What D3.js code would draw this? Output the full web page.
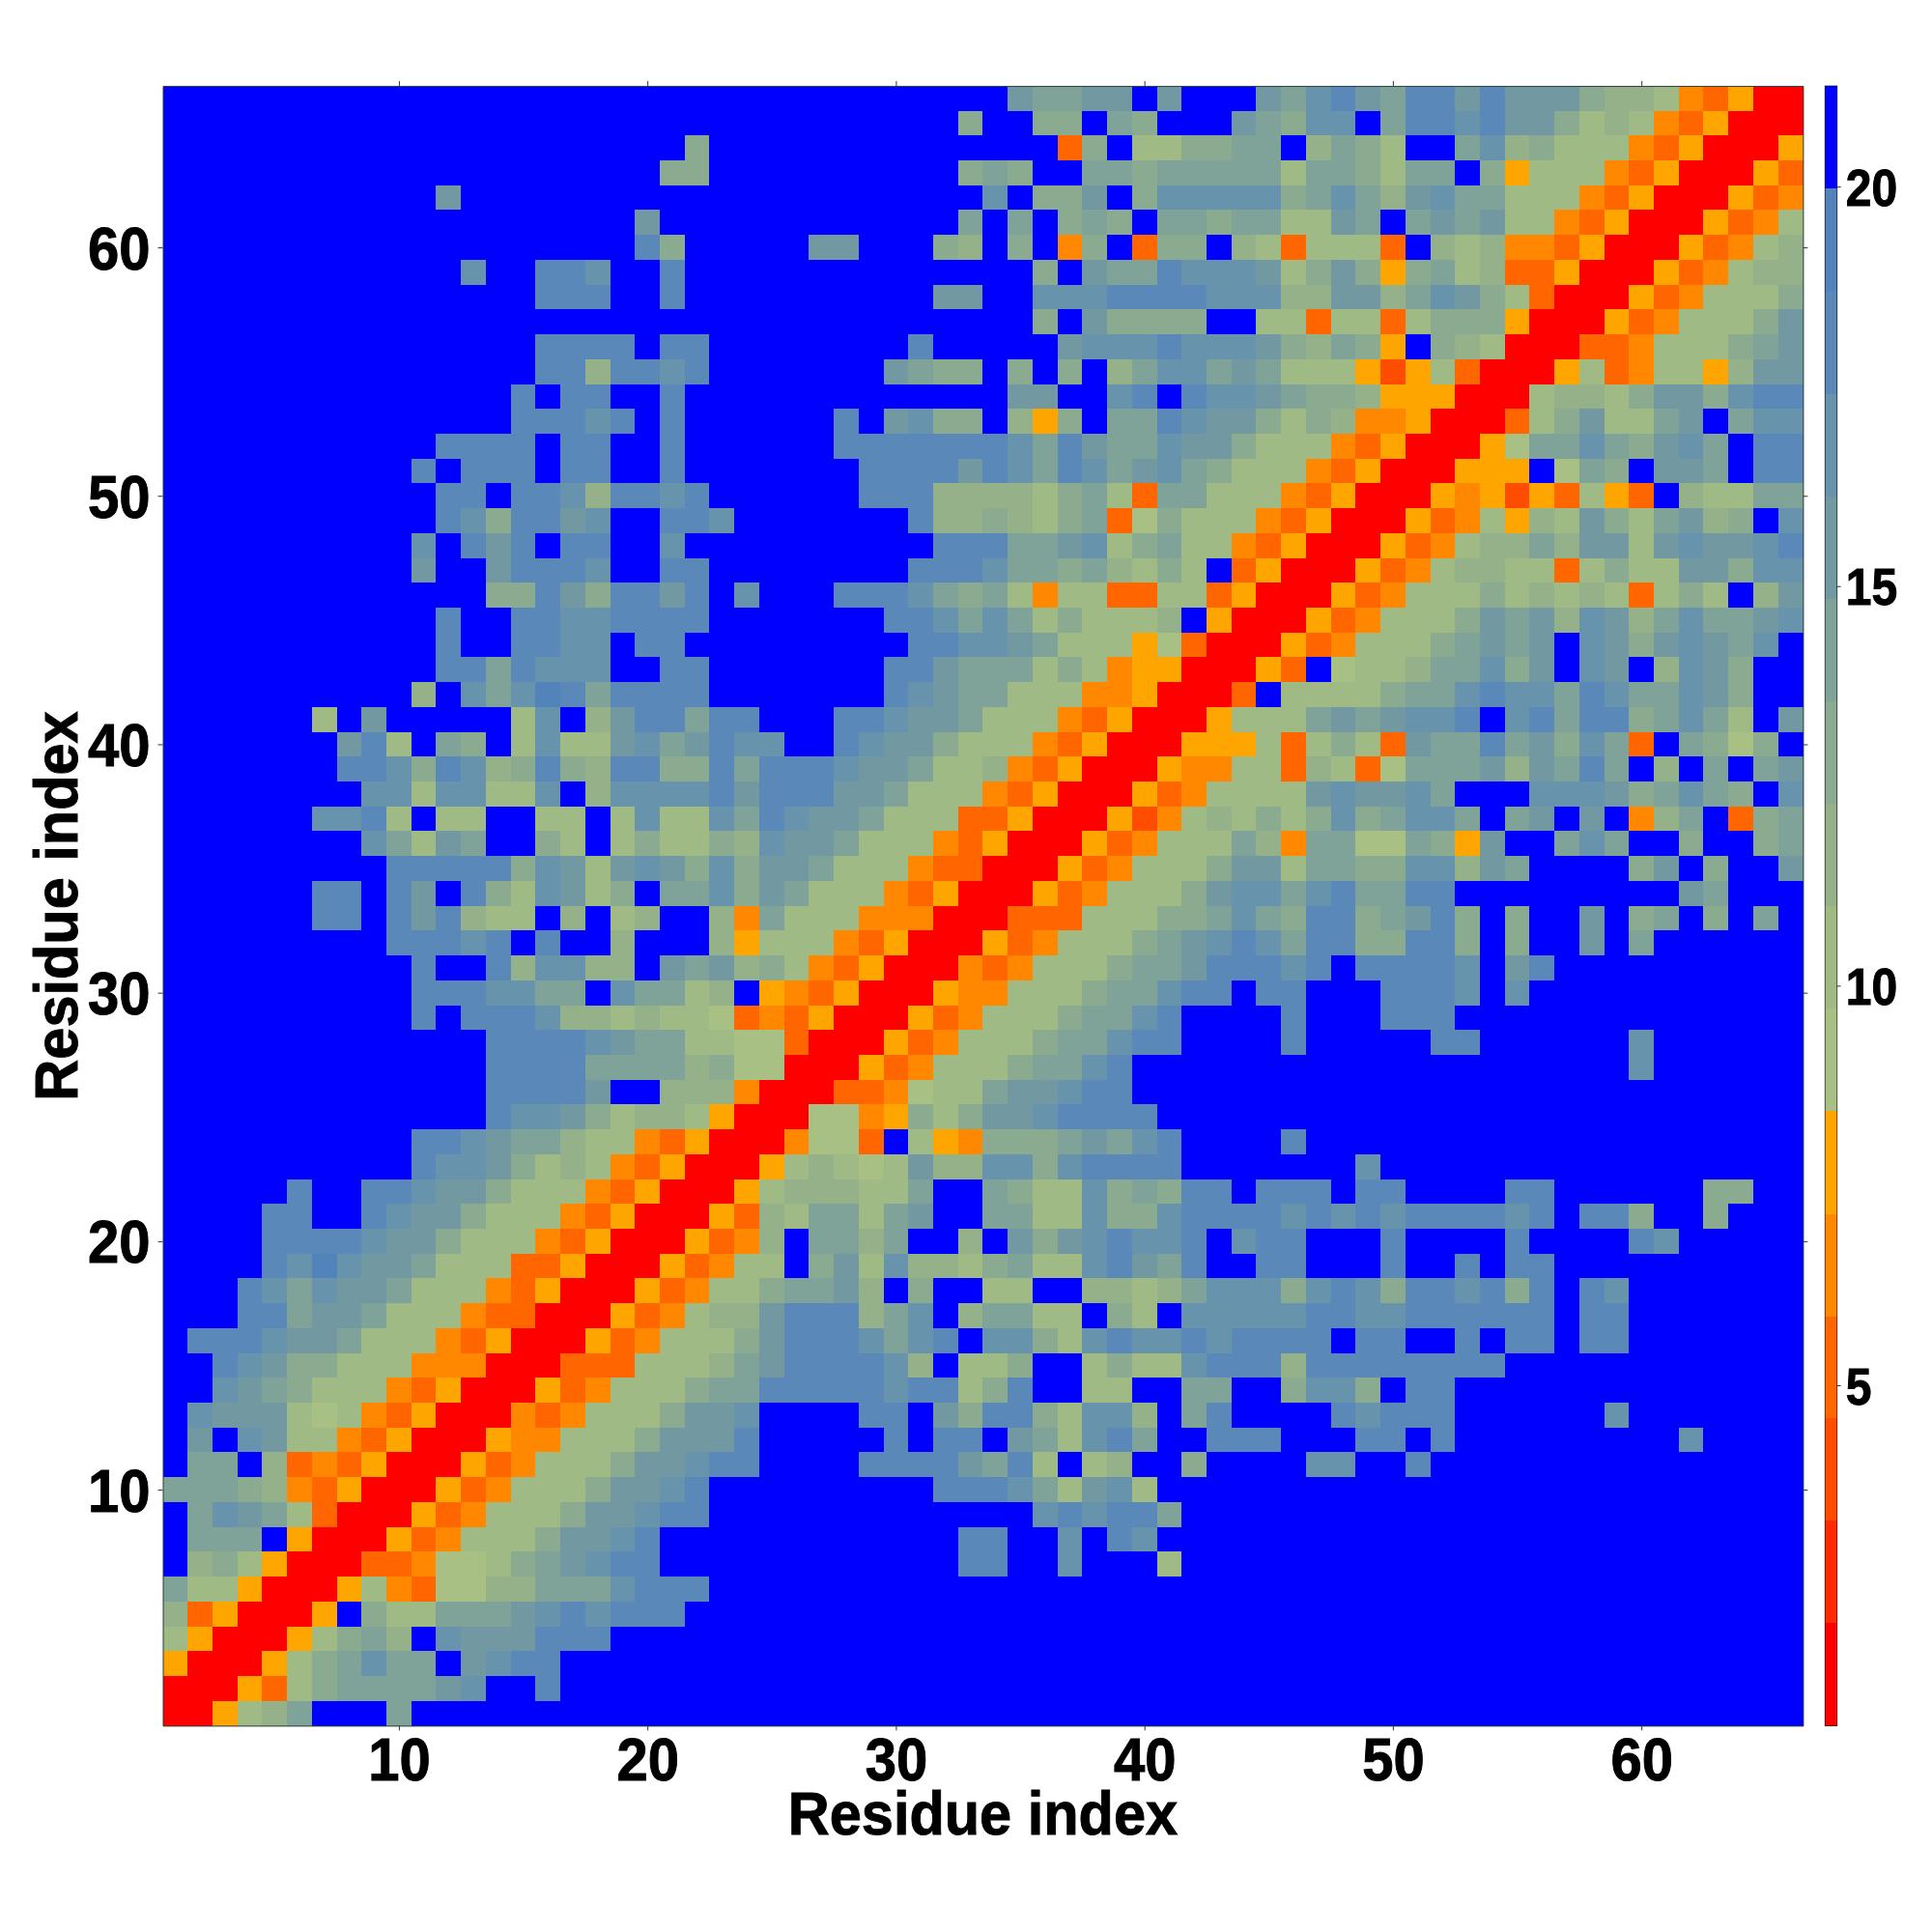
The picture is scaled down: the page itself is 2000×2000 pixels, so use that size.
<!DOCTYPE html>
<html><head><meta charset="utf-8">
<script src="https://cdn.jsdelivr.net/npm/d3@7"></script>
<style>html,body{margin:0;background:#fff}svg{display:block}text{font-family:"Liberation Sans",Arial,sans-serif;font-weight:700;fill:#000;stroke:#000;stroke-width:0.9px;paint-order:stroke}</style>
</head><body><svg id="c" width="2000" height="2000"></svg>
<script>
// band edges of the discrete colour scale (distance)
const bandBreaks = [0.74,2.03,3.31,4.59,5.87,7.15,8.44,9.72,11.0,12.28,13.57,14.85,16.13,17.41,18.69,19.98,21.26];
const bandColors = ["#ff0000","#ff2a00","#ff4d00","#ff6600","#ff8800","#ffa500","#a9c084","#9fba85","#95b18a","#8aab90","#7fa398","#7299a2","#6893ad","#5a88b8","#5383bb","#0000ff"];
const symbols = "0123456789abcde.";
const barTicks = [5,10,15,20];
const axisTicks = [10,20,30,40,50,60];
const residueCount = 66;
// one string per residue row, top row (66) first; each symbol is a band of the scale
const matrixRows = [
"...................... ............baabb.b... bacdbaddbdbbb988743500",
"...................... ..........9..99.a9...b a9cc.addcdbb9787435000",
".....................9 ..............39.7799a a.8a97..ac897774350005",
"....................99 ..........9a9..aa9aaaa a7aa97aa.9577743500053",
"...........b.......... ...........c.99b.9cccc c9aca8bcaa777435000534",
"...................b.. ..........a.a.9a9.aa9a a77ba.abab774350005347",
"...................d9. ....bb...98.9.49.399.8 737773.878443500053478",
"............c..ddc..d. .............9.baadccc b79b959a78335000534788",
"...............ddd..d. .........bb..cccddddcc c88bb8acb9730005347779",
"...................... .............9.b9999.. 773773799950005347779b",
"...............dddd.dd ........d.....bcccdccc b98a95.9870003347779ab",
"...............dd8ddcd .......ba99.9.9.8accab a7775257300057347758bb",
"..............d.dd..d. ............bb..cd.dcc ba99855500078879bb9cdd",
"..............dddcd.d. .....d.bc99.859.aadcbb 9798445000379b77ab.acc",
"...........dddd.dd..d. .....dddddddcadbaacbb9 77743500056aaca9bca.dd",
"..........d.ddd.dd..d. ......ddddbdcadcabca97 77435000555.6a9.bba.dd",
"...........dd.ddc8ddcd ......ddd888879a73aa77 7435000545253753.877aa",
"...........dc9ddbc..dd c.......d889879a369777 4350005347587b97ab89.c",
"..........c.dbd.dd..c. .........dddaabc79a774 35000534788a8bb7bcbbcd",
"..........b..bdddc..dd ........dddcaa9a8797.3 50005347887737977bb9cc",
".............99db9ddbd .c...dddca9a7477337735 0005347779787873797.8b",
"...........d..ddccdddd .......ddcaca797778.50 005347779bab8cb8acaabc",
"...........d..ddcc.dd. ........ddccba77756300 05347779abab.cb9bcbac.",
"...........ddadccc..dd .......ddbaaa797455000 53.6778aac9b.cb.8cb9..",
"..........8.cacedadddd .......dcbaa7774450003 .77779aacdccadcaacb9..",
"......7.b.....7c.8bdda dd...ddcbba77743500057 77ababccd.cdadd9aca7.b",
".......bd7.a9.7c77bcab dcc..dcbb9777435000555 737973baadab9ca3.a969.",
".......ddc9dc89d98dd99 dadddcbba7784350005447 738736aaab8bada.8.a.ab",
"........cc7cc77c.8cccc dbdddbba77743500053477 77bcbbca...cccb9aca9.c",
"......ccd7.77..77.7c77 cadcbba777335000524787 979c9acca.ab.b.48a.39a",
"........ca7ba..97.7977 98cbba777435000534777a 84aa66a95b..aca..9..9a",
".........ddddd9cb7bcb9 c9bba7774330005347779b b7aa99cc8ba....9b.9..b",
"......dd.db.d97cb79.aa c9ba7774350005347779bc cacdaadd.........ba...",
"......dd.dbd877.8.78.. 84a77744400033377799ac a9dd9abd9.9..b.9a.9.a.",
".........dddcd.d..8... 857774350005347779abcd cadd99dd9.9..b.a......",
"..........d..d8cc88.ba b8974350004347779aabdd dcd.ddddc.bd..........",
"..........dddccaa.caa7 8.54350005447779aacdd. dd...dddc.c...........",
"..........d.dddc887877 634350005347779aacd... .d...ddd..............",
".............ddddcbaa7 76630005347779aacdd... .d.....dd......c......",
".............ddddaaaa8 9660005347779aacd..... ...............c......",
".............ddddb..88 84000334677abbcdd..... ......................",
".............dccb97887 50006645979bbcdddd.... ......................",
"..........ddcbaa877435 0004663.754999abacd... .d....................",
"..........dccb97874350 00578767b88cc9cdddd... ....c.................",
".....d..ddcbb977743500 05788877a..a977c9a9dd. ddd.dd....dd......99..",
"....dd..dcbb9777435000 5387aa7ab..aa77c99cddd dcdcdcddddcd.dd9..9...",
"....ddddcbb97774350005 348.aa8a..8.b9bcdccd.c dd...d....d....dc.....",
"....dcecbba77733500053 477.9b7c8879a77cdbad.. dd...d..d.dd..........",
"...dcacbba777435000534 779aab8.9..77..8878acc c9cdc9ddcd9d.dc.......",
"...ddabba7774330005347 88bddd8ac.8aa77.97.ccc ccddccdddddd.dd.......",
".dddcbba77743500053477 79bdddcacd.cc97cdccdcd ddd.dd..d.dd.dd.......",
"..dcb99777444000333777 8abddddc8.779..7977cdd d8dddddddd............",
"..cba97774350005347779 aadddddcdd79d..77..aa. .9cc9.dd..............",
".cbbb7674350004347779b bc....dd.b9dd97cc8.ad. ...dcddd......c.......",
".b.cb774350005447779bb bd.....d.dd.ba7cda..dd d...dd.d.........c....",
".aa.834350005347779bbc dd....ddddbad7.78..9.. ..cc..d...............",
"aaa984350005347779bbcd .........dddca7bc7.... ......................",
".acba730005347779bbcdd .............cdcdda... ......................",
".aaa.50005347779bbcd.. ..........dd..c.dc.... ......................",
".89750003346679abcdd.. ..........dd..c...7... ......................",
"a77500057436688aaacddd ...................... ......................",
"8350005.977aaabcdcddd. ...................... ......................",
"75000579a8.cbbbddd.... ...................... ......................",
"5000579acaa.bcdd...... ...................... ......................",
"0005379aaaabc..d...... ...................... ......................",
"00578a...a............ ...................... ......................"
];

const bandMid = d3.pairs(bandBreaks).map(([a,b]) => (a+b)/2);
const cells = [];
matrixRows.forEach((s,i) => {
  const row = s.replace(/ /g,"");
  if (row.length !== residueCount) throw new Error("row index "+i+" residue "+(66-i)+" length "+row.length);
  for (let j=0;j<residueCount;j++) cells.push({x:j+1, y:residueCount-i, v:bandMid[symbols.indexOf(row[j])]});
});
if (matrixRows.length !== residueCount) throw new Error("rows "+matrixRows.length);

const plot = {l:168.5, r:1866.4, t:88.9, b:1786.4};
const x = d3.scaleLinear().domain([0.5,66.5]).range([plot.l,plot.r]);
const y = d3.scaleLinear().domain([0.5,66.5]).range([plot.b,plot.t]);
const color = d3.scaleThreshold().domain(bandBreaks.slice(1,-1)).range(bandColors);
const svg = d3.select("#c");

svg.append("g").attr("shape-rendering","crispEdges").selectAll("rect").data(cells).join("rect")
  .attr("x",d=>x(d.x-0.5)).attr("y",d=>y(d.y+0.5))
  .attr("width",d=>x(d.x+0.5)-x(d.x-0.5)+0.5).attr("height",d=>y(d.y-0.5)-y(d.y+0.5)+0.5)
  .attr("fill",d=>color(d.v));

function styleAxis(g){
  g.select(".domain").attr("stroke","#2a3a3a").attr("stroke-width",1);
  g.selectAll(".tick line").attr("stroke","#333").attr("stroke-width",1);
}
// tick labels are drawn taller than wide, as in the reference
function styleLabels(g,size,sy,baseline){
  g.selectAll("text").style("font-size",size+"px").attr("fill","#000")
    .attr("dy",0).attr("y",baseline/sy).attr("transform",`scale(1,${sy})`);
}
const ticksF = d3.format("d");
const tickFont = 58, tickStretch = 1.09;
const gb = svg.append("g").attr("transform",`translate(0,${plot.b})`)
  .call(d3.axisBottom(x).tickValues(axisTicks).tickFormat(ticksF).tickSize(5).tickSizeOuter(0).tickPadding(11));
styleAxis(gb); styleLabels(gb,tickFont,tickStretch,57);
const gt = svg.append("g").attr("transform",`translate(0,${plot.t})`)
  .call(d3.axisTop(x).tickValues(axisTicks).tickFormat("").tickSize(5).tickSizeOuter(0));
styleAxis(gt);
const gl = svg.append("g").attr("transform",`translate(${plot.l},0)`)
  .call(d3.axisLeft(y).tickValues(axisTicks).tickFormat(ticksF).tickSize(5).tickSizeOuter(0).tickPadding(8));
styleAxis(gl); styleLabels(gl,tickFont,tickStretch,22);
const gr = svg.append("g").attr("transform",`translate(${plot.r},0)`)
  .call(d3.axisRight(y).tickValues(axisTicks).tickFormat("").tickSize(5).tickSizeOuter(0));
styleAxis(gr);

svg.append("text").attr("transform",`translate(${(plot.l+plot.r)/2},1899) scale(1,1.06)`).attr("text-anchor","middle").style("font-size","59.5px").text("Residue index");
svg.append("text").attr("transform","translate(80,938) rotate(-90) scale(1,1.06)").attr("text-anchor","middle").style("font-size","59.5px").text("Residue index");

// colour bar
const bar = {l:1889.3, r:1901.7};
const cy = d3.scaleLinear().domain([bandBreaks[0],bandBreaks[16]]).range([plot.b,plot.t]);
const bands = d3.pairs(bandBreaks);
svg.append("g").attr("shape-rendering","crispEdges").selectAll("rect").data(bands).join("rect")
  .attr("x",bar.l).attr("width",bar.r-bar.l)
  .attr("y",d=>cy(d[1])).attr("height",d=>cy(d[0])-cy(d[1])+0.5)
  .attr("fill",(d,i)=>bandColors[i]);
svg.append("rect").attr("x",bar.l).attr("y",plot.t).attr("width",bar.r-bar.l).attr("height",plot.b-plot.t)
  .attr("fill","none").attr("stroke","#000").attr("stroke-opacity",0.6).attr("stroke-width",1);
const gc = svg.append("g").attr("transform",`translate(${bar.r},0)`)
  .call(d3.axisRight(cy).tickValues(barTicks).tickFormat(ticksF).tickSize(4).tickSizeOuter(0).tickPadding(5));
gc.select(".domain").remove();
gc.selectAll(".tick line").attr("stroke","#333");
styleLabels(gc,48,1.1,19);
</script></body></html>
